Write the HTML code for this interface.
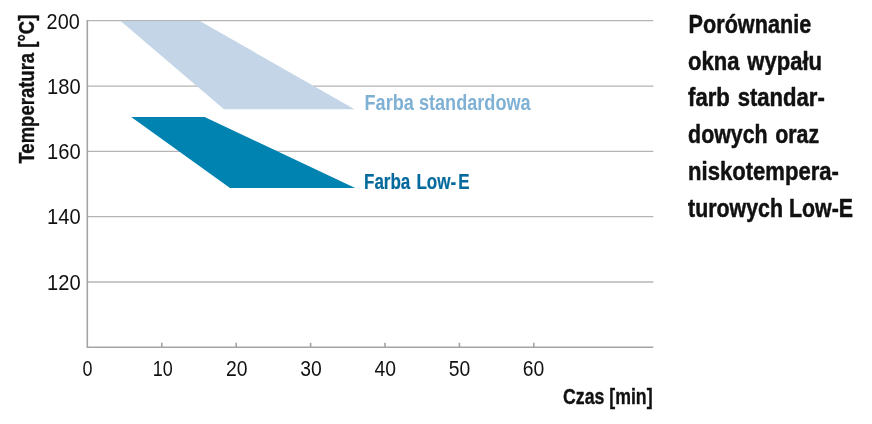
<!DOCTYPE html>
<html>
<head>
<meta charset="utf-8">
<title>Porównanie okna wypału</title>
<style>
html,body{margin:0;padding:0;background:#fff;}
body{width:872px;height:424px;overflow:hidden;}
svg{display:block;}
text{font-family:"Liberation Sans",sans-serif;fill:#111;stroke:#111;stroke-width:0.5;stroke-linejoin:round;filter:grayscale(1);}
.b{font-weight:bold;}
.r text{stroke:none;}
</style>
</head>
<body>
<svg width="872" height="424" viewBox="0 0 872 424">
<rect width="872" height="424" fill="#ffffff"/>
<!-- gridlines -->
<g stroke="#b4b4b4" stroke-width="1.3" fill="none">
<line x1="87.4" y1="20.7" x2="653.2" y2="20.7"/>
<line x1="87.4" y1="86.2" x2="653.4" y2="86.2"/>
<line x1="87.4" y1="151.4" x2="653.4" y2="151.4"/>
<line x1="87.4" y1="216.7" x2="653.4" y2="216.7"/>
<line x1="87.4" y1="282" x2="653.4" y2="282"/>
</g>
<!-- polygons -->
<polygon points="120.6,21 199.8,21 354.5,109.2 224,109.2" fill="#c3d5e7"/>
<polygon points="131.2,117 204.6,117 355.2,188 230,188" fill="#0083b0"/>
<!-- axes -->
<g stroke="#a4a4a4" stroke-width="1.6" fill="none">
<polyline points="87.3,20.1 87.3,347.3 653.3,347.3"/>
<line x1="161.8" y1="342.8" x2="161.8" y2="347.3"/>
<line x1="236.2" y1="342.8" x2="236.2" y2="347.3"/>
<line x1="310.6" y1="342.8" x2="310.6" y2="347.3"/>
<line x1="385" y1="342.8" x2="385" y2="347.3"/>
<line x1="459.4" y1="342.8" x2="459.4" y2="347.3"/>
<line x1="533.8" y1="342.8" x2="533.8" y2="347.3"/>
</g>
<!-- y labels -->
<g font-size="21.3" class="r">
<text x="46.6" y="28.8" textLength="33.2" lengthAdjust="spacingAndGlyphs">200</text>
<text x="47" y="94" textLength="33.6" lengthAdjust="spacingAndGlyphs">180</text>
<text x="47" y="159.2" textLength="33.6" lengthAdjust="spacingAndGlyphs">160</text>
<text x="47" y="224.4" textLength="33.6" lengthAdjust="spacingAndGlyphs">140</text>
<text x="47" y="289.7" textLength="33.6" lengthAdjust="spacingAndGlyphs">120</text>
</g>
<!-- x labels -->
<g font-size="21.3" class="r">
<text x="82.6" y="375.7" textLength="10" lengthAdjust="spacingAndGlyphs">0</text>
<text x="152.8" y="375.7" textLength="20" lengthAdjust="spacingAndGlyphs">10</text>
<text x="226" y="375.7" textLength="21.5" lengthAdjust="spacingAndGlyphs">20</text>
<text x="300.2" y="375.7" textLength="21.5" lengthAdjust="spacingAndGlyphs">30</text>
<text x="374.4" y="375.7" textLength="21.5" lengthAdjust="spacingAndGlyphs">40</text>
<text x="448.8" y="375.7" textLength="21.5" lengthAdjust="spacingAndGlyphs">50</text>
<text x="522.8" y="375.7" textLength="21.5" lengthAdjust="spacingAndGlyphs">60</text>
</g>
<!-- axis titles -->
<text class="b" font-size="21.6" x="563" y="404" textLength="89.6" style="stroke-width:0.35" lengthAdjust="spacingAndGlyphs">Czas [min]</text>
<text class="b" font-size="21.6" transform="translate(33.9,163.6) rotate(-90)" textLength="149" style="stroke-width:0.35" lengthAdjust="spacingAndGlyphs">Temperatura [°C]</text>
<!-- series labels -->
<text class="b" font-size="22.4" x="364.5" y="109.6" textLength="166.2" lengthAdjust="spacingAndGlyphs" style="fill:#7fb1d5;stroke:none;filter:opacity(0.999)">Farba standardowa</text>
<text class="b" font-size="21.6" x="364" y="188.7" textLength="105.5" lengthAdjust="spacingAndGlyphs" style="word-spacing:1.8px;fill:#046a9d;stroke:#046a9d;stroke-width:0.2;filter:opacity(0.999)">Farba Low-<tspan dx="2.5">E</tspan></text>
<!-- title -->
<g class="b" font-size="25.6" style="word-spacing:2px">
<text x="688.6" y="32.8" textLength="122.6" lengthAdjust="spacingAndGlyphs">Porównanie</text>
<text x="688.1" y="69.5" textLength="133.9" lengthAdjust="spacingAndGlyphs">okna wypału</text>
<text x="688.1" y="106.2" textLength="136.7" lengthAdjust="spacingAndGlyphs">farb standar-</text>
<text x="688.1" y="142.9" textLength="131" lengthAdjust="spacingAndGlyphs">dowych oraz</text>
<text x="688.1" y="179.6" textLength="150.8" lengthAdjust="spacingAndGlyphs">niskotempera-</text>
<text x="688.1" y="217" textLength="164.9" lengthAdjust="spacingAndGlyphs" style="word-spacing:0px">turowych Low-E</text>
</g>
</svg>
</body>
</html>
